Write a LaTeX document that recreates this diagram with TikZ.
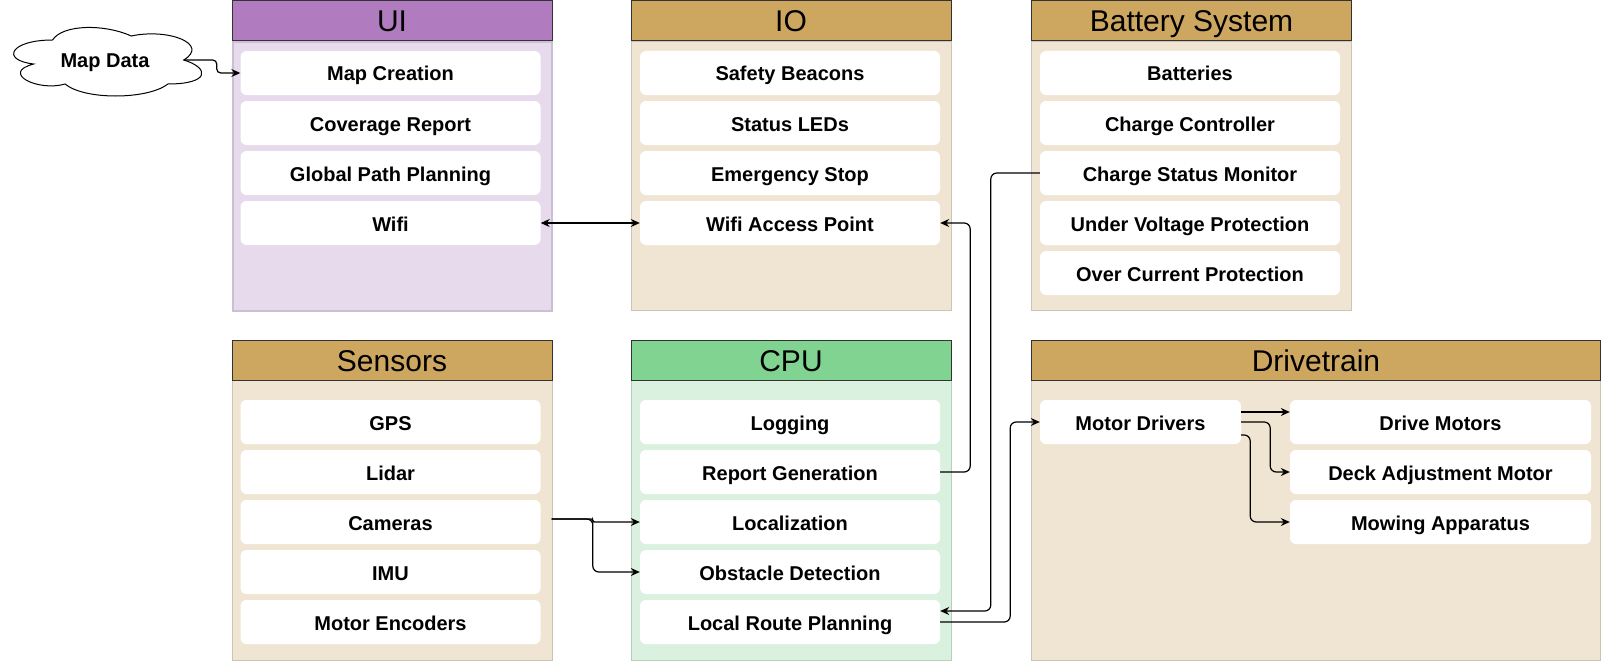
\documentclass[tikz,border=0pt]{standalone}
\usepackage{fontspec}
\setmainfont{Liberation Sans}
\usetikzlibrary{arrows.meta,calc}
\definecolor{uihdr}{HTML}{B17BBF}
\definecolor{uibg}{HTML}{E6DAEC}
\definecolor{uiline}{HTML}{CDBFD3}
\definecolor{tanhdr}{HTML}{CDA660}
\definecolor{tanbg}{HTML}{F0E5D2}
\definecolor{tanline}{HTML}{CBC3B8}
\definecolor{cpuhdr}{HTML}{80D390}
\definecolor{cpubg}{HTML}{DBF1DF}
\definecolor{cpuline}{HTML}{B9CFBD}
\definecolor{hdrline}{HTML}{333333}
\tikzset{
  x=1pt, y=-1pt,
  hdr/.style={draw=hdrline, line width=1pt, anchor=north west, minimum height=40, inner sep=0, text height=22pt, text depth=0pt, font=\fontsize{30}{36}\selectfont},
  bodybox/.style={anchor=north west, inner sep=0, line width=1pt},
  item/.style={fill=white, rounded corners=6pt, minimum width=300, minimum height=44, inner sep=0, text height=16pt, text depth=0pt, font=\bfseries\fontsize{20}{24}\selectfont},
  conn/.style={line width=1.2pt, rounded corners=6pt},
  tip/.style={-{Stealth[length=9pt,width=8pt]}},
  tips/.style={{Stealth[length=9pt,width=8pt]}-{Stealth[length=9pt,width=8pt]}}
}
\begin{document}
\begin{tikzpicture}
\useasboundingbox[fill=white] (0,0) rectangle (1601,661);
% bodies
\node[bodybox, fill=uibg, draw=uiline, line width=2pt, minimum width=319, minimum height=269] (uib) at (232,41) {};
\node[bodybox, fill=tanbg, draw=tanline, minimum width=320, minimum height=269] (iob) at (630.5,41) {};
\node[bodybox, fill=tanbg, draw=tanline, minimum width=320, minimum height=269] (batb) at (1031,41) {};
\node[bodybox, fill=tanbg, draw=tanline, minimum width=320, minimum height=280] (senb) at (231.5,380) {};
\node[bodybox, fill=cpubg, draw=cpuline, minimum width=320, minimum height=280] (cpub) at (630.5,380) {};
\node[bodybox, fill=tanbg, draw=tanline, minimum width=569, minimum height=280] (drvb) at (1031,380) {};
% headers
\node[hdr, fill=uihdr, minimum width=320] (uih) at (231.5,0.5) {UI};
\node[hdr, fill=tanhdr, minimum width=320] (ioh) at (630.5,0.5) {IO};
\node[hdr, fill=tanhdr, minimum width=320] (bath) at (1031,0.5) {Battery System};
\node[hdr, fill=tanhdr, minimum width=320] (senh) at (231.5,340) {Sensors};
\node[hdr, fill=cpuhdr, minimum width=320] (cpuh) at (630.5,340) {CPU};
\node[hdr, fill=tanhdr, minimum width=569] (drvh) at (1031,340) {Drivetrain};
% UI items
\node[item] (mc) at (390.5,73) {Map Creation};
\node[item] (cr) at (390.5,123) {Coverage Report};
\node[item] (gpp) at (390.5,173) {Global Path Planning};
\node[item] (wifi) at (390.5,223) {Wifi};
% IO items
\node[item] (sb) at (790,73) {Safety Beacons};
\node[item] (sled) at (790,123) {Status LEDs};
\node[item] (es) at (790,173) {Emergency Stop};
\node[item] (wap) at (790,223) {Wifi Access Point};
% Battery items
\node[item] (bat) at (1190,73) {Batteries};
\node[item] (cc) at (1190,123) {Charge Controller};
\node[item] (csm) at (1190,173) {Charge Status Monitor};
\node[item] (uvp) at (1190,223) {Under Voltage Protection};
\node[item] (ocp) at (1190,273) {Over Current Protection};
% Sensors items
\node[item] (gps) at (390.5,422) {GPS};
\node[item] (lid) at (390.5,472) {Lidar};
\node[item] (cam) at (390.5,522) {Cameras};
\node[item] (imu) at (390.5,572) {IMU};
\node[item] (enc) at (390.5,622) {Motor Encoders};
% CPU items
\node[item] (log) at (790,422) {Logging};
\node[item] (rg) at (790,472) {Report Generation};
\node[item] (loc) at (790,522) {Localization};
\node[item] (obs) at (790,572) {Obstacle Detection};
\node[item] (lrp) at (790,622) {Local Route Planning};
% Drivetrain items
\node[item, minimum width=201] (mdr) at (1140.5,422) {Motor Drivers};
\node[item, minimum width=301] (dm) at (1440.5,422) {Drive Motors};
\node[item, minimum width=301] (dam) at (1440.5,472) {Deck Adjustment Motor};
\node[item, minimum width=301] (mow) at (1440.5,522) {Mowing Apparatus};
% cloud (draw.io cloud outline)
\draw[line width=1pt, fill=white] (52.5,40) .. controls (10.5,40) and (0,60) .. (33.6,64)
  .. controls (0,72.8) and (37.8,92) .. (65.1,84)
  .. controls (84,100) and (147,100) .. (168,84)
  .. controls (210,84) and (210,68) .. (183.75,60)
  .. controls (210,44) and (168,28) .. (131.25,36)
  .. controls (105,24) and (63,24) .. (52.5,40) -- cycle;
\node[inner sep=0, text height=16pt, text depth=0pt, font=\bfseries\fontsize{20}{24}\selectfont] (md) at (105,60) {Map Data};
\coordinate (mdE) at (183.75,60);
% connectors
\draw[conn, rounded corners=4pt, tip] (mdE) -- ++(33,0) |- (mc.west);
\draw[conn, tips] (wifi.east) -- (wap.west);
\draw[conn, tip] (rg.east) -- ++(30,0) |- (wap.east);
\draw[conn, tip] (csm.west) -- ++(-49,0) |- ($(lrp.east)+(0,-11)$);
\draw[conn, tip] (lrp.east) -- ++(70,0) |- (mdr.west);
\coordinate (camout) at ($(cam.east)+(11,-3)$);
\draw[conn, rounded corners=2pt, tip] (camout) -| ($(loc.west)+(-47,0)$) -- (loc.west);
\draw[conn, tip] (camout) -| ($(obs.west)+(-47,0)$) -- (obs.west);
\draw[conn, tip] ($(mdr.east)+(0,-10)$) -- ($(dm.west)+(0,-10)$);
\draw[conn, tip] (mdr.east) -- ++(29,0) |- (dam.west);
\draw[conn, tip] ($(mdr.east)+(0,13)$) -- ++(9,0) |- (mow.west);
\end{tikzpicture}
\end{document}
